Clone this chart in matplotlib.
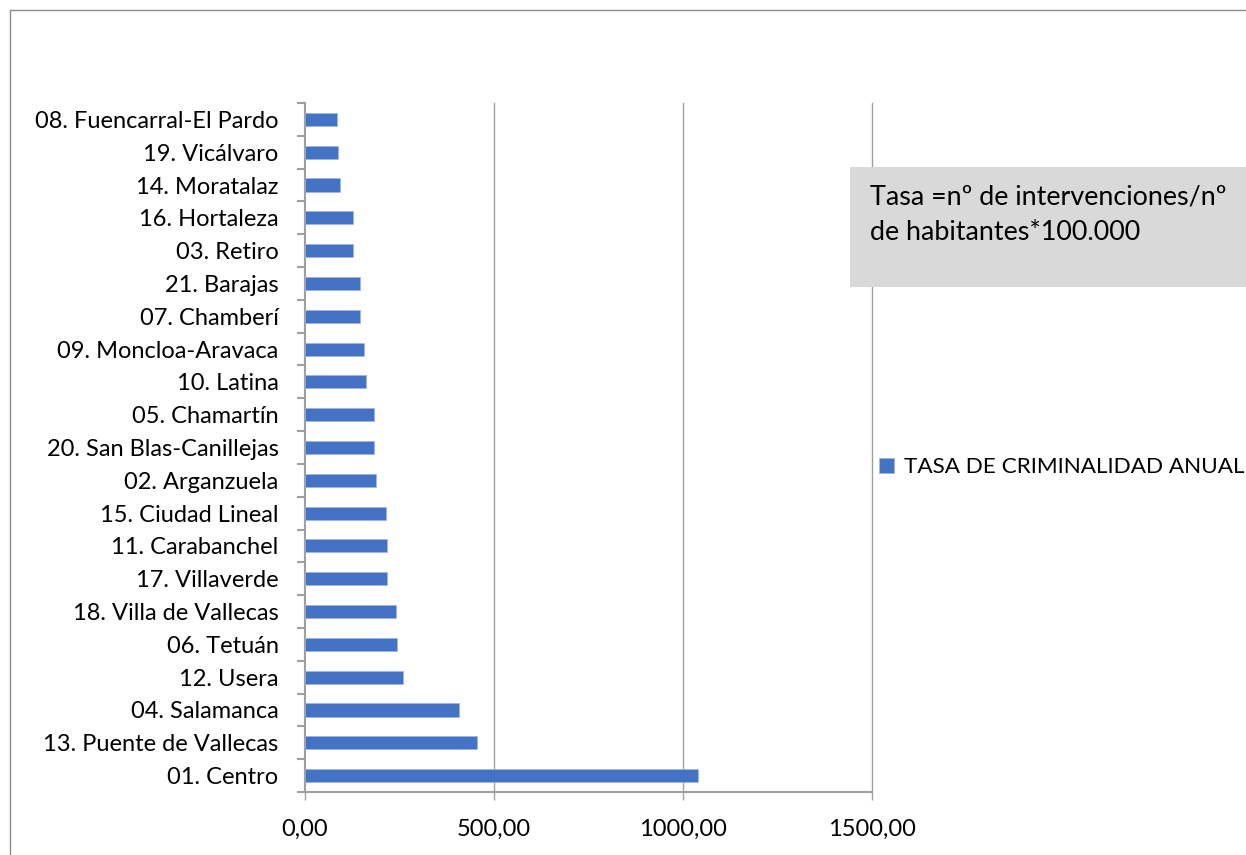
import matplotlib.pyplot as plt
from matplotlib.patches import Rectangle
from matplotlib.ticker import FixedLocator, FuncFormatter

# Data (bottom to top as drawn)
distritos = ["01. Centro", "13. Puente de Vallecas", "04. Salamanca", "12. Usera",
             "06. Tetuán", "18. Villa de Vallecas", "17. Villaverde", "11. Carabanchel",
             "15. Ciudad Lineal", "02. Arganzuela", "20. San Blas-Canillejas",
             "05. Chamartín", "10. Latina", "09. Moncloa-Aravaca", "07. Chamberí",
             "21. Barajas", "03. Retiro", "16. Hortaleza", "14. Moratalaz",
             "19. Vicálvaro", "08. Fuencarral-El Pardo"]
tasa = [1040, 454, 407, 260, 244, 241, 217, 218, 215, 189, 183,
        182, 161, 155, 145.5, 145, 128, 126, 92.6, 88, 85]
serie = "TASA DE CRIMINALIDAD ANUAL"
nota = "Tasa =nº de intervenciones/nº\nde habitantes*100.000"
xticks = [0, 500, 1000, 1500]

plt.rcParams['font.family'] = ['Lato', 'DejaVu Sans']
fs = 17
grey = '#a0a0a0'

fig = plt.figure(figsize=(12.46, 8.55), dpi=100)
ax = fig.add_axes([305/1246, 1 - 792/855, (872 - 305)/1246, (792 - 103)/855])

y = range(len(distritos))
ax.barh(y, tasa, height=0.4, color='#4472C4', edgecolor='#9fb6e3', linewidth=0.5,
        label=serie, zorder=3)

ax.set_xlim(0, 1500)
ax.set_ylim(-0.5, len(distritos) - 0.5)
ax.set_xticks(xticks)
ax.xaxis.set_major_formatter(FuncFormatter(lambda v, p: f"{v:.2f}".replace('.', ',')))
for v in xticks[1:]:
    ax.axvline(v, color=grey, linewidth=1, zorder=0, clip_on=False)
ax.tick_params(axis='x', length=6, color=grey, width=1, labelsize=fs, pad=13)

ax.set_yticks(list(y))
ax.set_yticklabels(distritos)
ax.tick_params(axis='y', which='major', length=0, labelsize=fs, pad=19)
ax.yaxis.set_minor_locator(FixedLocator([k + 0.5 for k in range(-1, len(distritos))]))
ax.tick_params(axis='y', which='minor', length=6, color=grey, width=1.5)

for s in ['top', 'right']:
    ax.spines[s].set_visible(False)
for s in ['left', 'bottom']:
    ax.spines[s].set_color(grey)
    ax.spines[s].set_linewidth(1.5)

# note box
fig.patches.append(Rectangle((850/1246, 1 - 287/855), (1246 - 850)/1246, 120/855,
                             transform=fig.transFigure, facecolor='#d9d9d9',
                             edgecolor='none', zorder=5))
fig.text(870/1246, 1 - 185/855, nota, fontsize=19.4, va='top', ha='left',
         linespacing=1.5, zorder=6)

# legend
fig.legend(loc='center left', bbox_to_anchor=(879/1246, 1 - 467/855), frameon=False,
           fontsize=16.2, handlelength=0.65, handleheight=0.65, handletextpad=0.45,
           borderaxespad=0, borderpad=0)

# chart area border
fig.patches.append(Rectangle((10/1246, -0.1), 1.2, 1 - 10/855 + 0.1,
                             transform=fig.transFigure, facecolor='none',
                             edgecolor='#8c8c8c', linewidth=1))

fig.savefig('out.png', dpi=100)
